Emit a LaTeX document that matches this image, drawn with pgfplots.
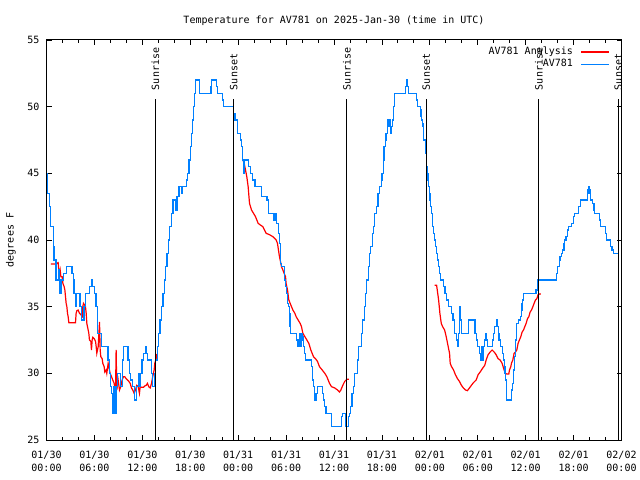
\documentclass[border=0pt]{standalone}
\usepackage{fontspec}
\setmainfont{DejaVu Sans Mono}
\usepackage{pgfplots}
\pgfplotsset{compat=1.18}
\definecolor{obsblue}{RGB}{0,128,255}
\definecolor{anared}{RGB}{255,0,0}
\begin{document}
\fontsize{10bp}{12bp}\selectfont
\begin{tikzpicture}
\path[use as bounding box, fill=white] (0,0) rectangle (640bp,480bp);
\begin{axis}[
  at={(46.5bp,40bp)}, anchor=south west,
  scale only axis, width=575bp, height=400bp,
  xmin=0, xmax=72, ymin=25, ymax=55,
  clip=false,
  axis line style={line width=1bp},
  every tick/.style={black, line width=0.8bp},
  tick align=inside,
  major tick length=5bp, minor tick length=3bp,
  xtick={0,6,...,72},
  minor x tick num=2,
  ytick={25,30,...,55},
  xticklabels={{01/30\\00:00},{01/30\\06:00},{01/30\\12:00},{01/30\\18:00},{01/31\\00:00},{01/31\\06:00},{01/31\\12:00},{01/31\\18:00},{02/01\\00:00},{02/01\\06:00},{02/01\\12:00},{02/01\\18:00},{02/02\\00:00}},
  xticklabel style={align=center, font=\fontsize{10bp}{13.5bp}\selectfont, anchor=north, inner sep=0pt, yshift=-10.5bp},
  yticklabel style={anchor=east, inner sep=0pt, xshift=-7bp, font=\fontsize{10bp}{12bp}\selectfont},
  /pgf/number format/assume math mode=true,
  title={Temperature for AV781 on 2025-Jan-30 (time in UTC)},
  title style={at={(axis description cs:0.5,1.026)}, anchor=base, inner sep=0pt, font=\fontsize{10bp}{12bp}\selectfont},
  ylabel={degrees F},
  ylabel style={at={(axis description cs:-0.0617,0.5)}, anchor=center, inner sep=0pt, font=\fontsize{10bp}{12bp}\selectfont},
  legend style={at={(axis description cs:0.98,0.9825)}, anchor=north east, draw=none, fill=none, inner sep=0pt, row sep=3bp,
    nodes={inner sep=0pt, text height=7.3bp, text depth=2.2bp}, font=\fontsize{10bp}{12bp}\selectfont,
    /tikz/every odd column/.style={column sep=7.7bp}},
  legend cell align=right,
  legend plot pos=right,
  legend image code/.code={\draw[#1, line width=1.2bp] (0bp,0bp) -- (28bp,0bp);},
]
% Analysis (red)
\addplot[anared, line width=1.2bp] table {
h T
0.54 38.2
1.13 38.2
1.29 38.25
1.46 38.3
1.54 37.75
1.63 37.5
1.71 37.75
1.8 37.25
1.96 37.25
2.05 36.75
2.21 36.5
2.3 36.25
2.38 35.75
2.46 35.25
2.55 35
2.63 34.5
2.71 34.25
2.8 33.8
3.63 33.8
3.71 34.5
3.8 34.7
3.96 34.75
4.13 34.5
4.3 34.4
4.47 34.25
4.55 35
4.63 35.25
4.8 35.1
4.88 35
4.97 34.5
5.05 33.75
5.13 33.5
5.22 33.25
5.3 33
5.38 32.5
5.55 32.4
5.63 31.75
5.72 32.5
5.8 32.7
5.97 32.6
6.14 32.4
6.22 32
6.3 31.5
6.47 32
6.64 33.85
6.72 31.75
6.8 31.25
6.97 31.1
7.05 30.75
7.22 30.5
7.3 30.1
7.47 30.25
7.55 30
7.72 30.75
7.8 30.5
7.97 30
8.14 29.75
8.3 29.5
8.47 29.25
8.64 28.5
8.72 31.75
8.8 28.75
8.97 29.5
9.14 28.75
9.3 29
9.47 29.5
9.64 29.75
9.8 29.75
9.97 29.6
10.14 29.5
10.3 29.4
10.48 29.25
10.64 28.9
10.8 28.75
10.98 28.5
11.14 28.75
11.3 29.1
11.48 29
11.64 28.5
11.73 29
11.9 28.95
12.14 28.95
12.3 29.05
12.48 29.1
12.64 29.25
12.8 29
12.98 28.9
13.15 29.25
13.3 29.75
13.48 30.25
13.56 30.75
13.73 31.1
13.8 31.45
};
\addlegendentry{AV781 Analysis}
\addplot[anared, line width=1.2bp, forget plot] table {
h T
24.6 46
24.75 45.75
24.92 45.25
25.08 44.75
25.25 44
25.42 42.75
25.67 42.25
25.92 42
26.17 41.75
26.5 41.25
26.84 41.1
27.09 41
27.5 40.5
27.92 40.4
28.34 40.25
28.76 40
28.92 39.75
29.17 38.75
29.26 38.5
29.42 38
29.6 37.75
29.76 37.5
29.93 37.25
30 36.75
30.18 36.25
30.34 35.5
30.51 35.25
30.68 35
30.85 34.75
31.1 34.5
31.26 34.25
31.51 34
31.76 33.75
31.93 33.5
32.1 33
32.35 32.75
32.6 32.5
32.85 32.25
33.1 31.75
33.43 31.25
33.68 31.1
33.93 30.9
34.18 30.5
34.52 30.25
34.85 30
35.1 29.75
35.27 29.5
35.44 29.25
35.68 29
36.1 28.9
36.44 28.75
36.69 28.6
36.86 28.75
37.1 29.1
37.35 29.4
37.6 29.55
37.85 29.55
};
\addplot[anared, line width=1.2bp, forget plot] table {
h T
48.6 36.6
48.85 36.6
48.93 36.25
49.1 35.5
49.26 34.5
49.43 33.75
49.6 33.5
49.85 33.25
50.05 32.75
50.3 32
50.47 31.5
50.55 30.75
50.72 30.5
50.97 30.25
51.2 29.9
51.46 29.6
51.7 29.4
51.96 29.1
52.2 28.9
52.46 28.75
52.7 28.7
52.96 28.9
53.2 29.1
53.46 29.3
53.8 29.5
54.05 29.9
54.3 30.1
54.63 30.4
54.88 30.6
55.05 31
55.3 31.4
55.55 31.6
55.8 31.75
56.05 31.6
56.3 31.4
56.55 31.1
56.8 31
57.05 30.75
57.3 30.25
57.47 30
57.64 29.95
57.89 29.95
57.97 30.25
58.14 30.5
58.22 30.75
58.39 31
58.55 31.5
58.72 31.6
58.89 31.75
59.05 32.25
59.22 32.5
59.39 32.75
59.56 33.1
59.73 33.25
59.89 33.5
60.06 33.75
60.23 34.1
60.4 34.25
60.56 34.6
60.73 34.75
60.9 35
61.06 35.25
61.23 35.5
61.4 35.6
61.56 35.9
61.73 35.95
61.9 35.95
};
% Observations (blue)
\addplot[obsblue, line width=1.2bp, const plot] table {
h T
0 45
0.15 43.5
0.38 42.5
0.46 41.5
0.54 41
0.85 39.5
0.93 38.5
1.2 37
1.5 37.75
1.6 37
1.7 36
1.85 37
2.1 37.5
2.5 38
3.2 37.5
3.35 37
3.45 36
3.6 35
3.75 36
4.2 35
4.35 34
4.7 35
4.85 36
5.4 36.5
5.6 37
5.8 36.5
6.0 36
6.2 35
6.4 33
6.9 32
7.7 31
7.85 30
8.0 29
8.15 28.5
8.25 27
8.4 29
8.55 27
8.7 29
8.85 30
9.3 29
9.5 31
9.65 32
10.2 31
10.35 30
10.55 29.5
10.8 29
11.05 28
11.3 29
11.5 30
11.65 29
11.75 30
11.95 31
12.15 31.5
12.35 32
12.45 31.5
12.6 31
13.1 30
13.3 29
13.5 30
13.65 31
13.85 32
14.0 33
14.2 34
14.4 35
14.6 36
14.8 37
14.95 38
15.1 39
15.25 40
15.45 41
15.65 42
15.85 43
16.15 42.25
16.35 43.25
16.6 44
16.9 43.5
17.05 44
17.5 44.5
17.7 45
17.85 46
18.0 47
18.15 48
18.3 49
18.45 50
18.55 51
18.7 52
19.15 51
20.6 51.5
20.7 52
21.3 51.5
21.45 51
22.0 50.5
22.2 50
23.45 49.5
23.6 49
23.9 48
24.3 47.5
24.45 47
24.55 46
24.65 45
24.75 46
25.3 45.5
25.5 45
25.8 44.5
26.1 44
26.9 43.25
27.6 43
27.75 42
28.4 41.5
28.6 42
28.8 41.25
29.0 41
29.1 40.5
29.2 39.75
29.26 39
29.34 38.25
29.45 38
29.8 37
29.9 36.5
30.05 36
30.15 35.25
30.3 35
30.4 34.5
30.5 33.5
30.58 33
31.3 32.5
31.4 32
31.55 32.5
31.65 33
31.75 32
31.9 32.5
32.0 33
32.1 32.75
32.2 32
32.3 31.5
32.4 31
33.15 30.5
33.3 29.5
33.45 29
33.6 28
33.75 28.5
33.9 29
34.6 28.5
34.7 28
34.85 27.5
35.0 27
35.7 26
36.9 26.75
37.05 27
37.4 26.5
37.48 26
37.8 26.75
37.95 27
38.1 27.5
38.25 28.5
38.4 29
38.55 30
38.95 31
39.1 32
39.45 33
39.6 34
39.8 35
39.95 36
40.1 37
40.3 38
40.45 39
40.6 39.5
40.8 40.5
40.95 41
41.1 42
41.3 42.5
41.5 43.5
41.7 44
41.9 44.5
42.0 45
42.15 46
42.25 47
42.4 47.5
42.5 48
42.65 48.75
42.75 49
42.85 48.5
42.95 49
43.05 48
43.2 48.5
43.3 49
43.4 49.5
43.45 50
43.55 50.5
43.6 51
44.95 51.5
45.05 52
45.15 51.5
45.3 51
46.35 50.5
46.5 50
46.8 49.75
46.9 49.25
47.0 49
47.1 48.75
47.15 48.5
47.25 47.5
47.45 46.5
47.6 45.5
47.7 45
47.78 44.5
47.86 44
47.95 43.5
48.03 43
48.1 42.5
48.2 42
48.3 41.5
48.38 41
48.5 40.5
48.6 40
48.75 39.5
48.85 39
49.0 38.5
49.1 38
49.2 37.5
49.35 37
49.7 36.5
49.9 36
50.1 35.5
50.3 35
50.75 34.5
50.9 34
51.05 33
51.3 32.5
51.45 32
51.6 33
51.7 34
51.78 35
51.85 34
51.95 33
52.85 34
53.65 33
53.8 32.5
53.95 32
54.2 31.5
54.35 31
54.45 32
54.55 31.5
54.62 31
54.72 32
54.85 32.5
55.0 33
55.1 32.5
55.2 32
55.8 32.5
55.95 33
56.1 33.5
56.3 34
56.45 33.5
56.55 33
56.65 32.5
56.8 32
57.05 31.5
57.2 31
57.3 30.5
57.4 30
57.5 29.5
57.55 29
57.62 28
58.2 28.75
58.35 29.25
58.5 30.25
58.65 31.25
58.75 32.5
58.9 33.75
59.1 34
59.35 34.25
59.45 34.75
59.55 35.25
59.62 35.5
59.7 36
61.3 36.25
61.45 36.75
61.55 37
63.9 37.5
64.0 38
64.2 38.5
64.3 38.75
64.45 39
64.6 39.25
64.8 39.75
64.9 40
65.05 40.25
65.2 40.75
65.4 41
65.7 41.25
65.95 41.75
66.1 42
66.6 42.5
66.85 43
67.7 43.5
67.8 43.75
67.88 44
67.97 43.75
68.05 43.5
68.15 43
68.4 42.75
68.55 42.25
68.62 42
69.2 41.5
69.4 41
69.95 40.5
70.15 40
70.6 39.5
70.8 39.25
71.0 39
71.6 39
};
\addlegendentry{AV781}
% Sunrise / sunset markers
\addplot[black, line width=1bp, forget plot] coordinates {(13.65,25) (13.65,50.55)};
\addplot[black, line width=1bp, forget plot] coordinates {(23.45,25) (23.45,50.55)};
\addplot[black, line width=1bp, forget plot] coordinates {(37.6,25) (37.6,50.55)};
\addplot[black, line width=1bp, forget plot] coordinates {(47.55,25) (47.55,50.55)};
\addplot[black, line width=1bp, forget plot] coordinates {(61.65,25) (61.65,50.55)};
\addplot[black, line width=1bp, forget plot] coordinates {(71.58,25) (71.58,50.55)};
\node[rotate=90, anchor=west, inner sep=0pt, xshift=1.5bp] at (axis cs:13.65,51.12) {Sunrise};
\node[rotate=90, anchor=west, inner sep=0pt, xshift=1.5bp] at (axis cs:23.45,51.12) {Sunset};
\node[rotate=90, anchor=west, inner sep=0pt, xshift=1.5bp] at (axis cs:37.6,51.12) {Sunrise};
\node[rotate=90, anchor=west, inner sep=0pt, xshift=1.5bp] at (axis cs:47.55,51.12) {Sunset};
\node[rotate=90, anchor=west, inner sep=0pt, xshift=1.5bp] at (axis cs:61.65,51.12) {Sunrise};
\node[rotate=90, anchor=west, inner sep=0pt, xshift=1.5bp] at (axis cs:71.58,51.12) {Sunset};
\end{axis}
\end{tikzpicture}
\end{document}
